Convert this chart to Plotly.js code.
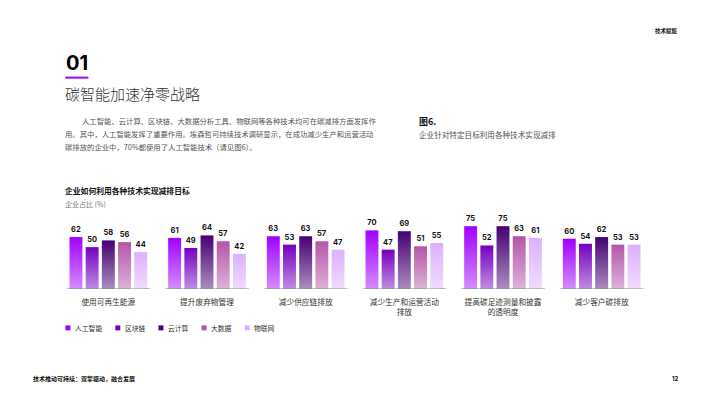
<!DOCTYPE html>
<html><head><meta charset="utf-8">
<script src="https://cdn.plot.ly/plotly-3.0.1.min.js"></script>
<style>html,body{margin:0;padding:0;background:#fff}#chart{width:710px;height:399px}</style>
</head><body><div id="chart"></div>
<script>
const categories = ['使用可再生能源','提升废弃物管理','减少供应链排放','减少生产和运营活动<br>排放','提高碳足迹测量和披露<br>的透明度','减少客户碳排放'];
const seriesNames = ['人工智能','区块链','云计算','大数据','物联网'];
const aiValues = [62, 61, 63, 70, 75, 60];
const blockchainValues = [50, 49, 53, 47, 52, 54];
const cloudValues = [58, 64, 63, 69, 75, 62];
const bigDataValues = [56, 57, 57, 51, 63, 53];
const iotValues = [44, 42, 47, 55, 61, 53];
const seriesValues = [aiValues, blockchainValues, cloudValues, bigDataValues, iotValues];
const seriesColors = ['#a100ff','#7500c0','#460073','#b455aa','#dcb0ff'];

const W = 710, H = 399;
const M = {l: 58.6, r: 58.6, t: 221.8, b: 110};
const PW = W - M.l - M.r, PH = H - M.t - M.b;
const X = px => (px - M.l) / PW;
const Y = py => (H - M.b - py) / PH;
const CJK = 'Noto Sans CJK SC';

const traces = seriesNames.map((name, i) => ({
  type: 'bar', name: name, x: categories, y: seriesValues[i],
  marker: {color: seriesColors[i], line: {width: 0}},
  text: seriesValues[i].map(String), textposition: 'outside',
  textfont: {family: 'Inter, ' + CJK, size: 7.5, color: '#111', weight: 700},
  constraintext: 'none', cliponaxis: false, hoverinfo: 'none', showlegend: false
}));

const ann = [];
const txt = (x, y, text, size, color, weight, anchor, family) => ann.push({
  xref: 'paper', yref: 'paper', x: X(x), y: Y(y), text: text, showarrow: false,
  xanchor: anchor || 'left', yanchor: 'middle',
  font: {family: family || CJK, size: size, color: color, weight: weight || 400}
});
txt(680, 30, '技术赋能', 5.5, '#111', 700, 'right');
txt(64, 62, '01', 20, '#000', 700, 'left', 'Inter, ' + CJK);
txt(63, 93, '碳智能加速净零战略', 15, '#333', 300);
txt(80, 120, '人工智能、云计算、区块链、大数据分析工具、物联网等各种技术均可在碳减排方面发挥作', 7.35, '#555', 400);
txt(63, 133, '用。其中，人工智能发挥了重要作用。埃森哲可持续技术调研显示，在成功减少生产和运营活动', 7.35, '#555', 400);
txt(63, 146, '碳排放的企业中，70%都使用了人工智能技术（请见图6）。', 7.35, '#555', 400);
txt(417, 121, '图6.', 9, '#111', 700);
txt(417, 134, '企业针对特定目标利用各种技术实现减排', 7.6, '#555', 400);
txt(63, 190, '企业如何利用各种技术实现减排目标', 7.8, '#111', 700);
txt(63, 203.5, '企业占比 (%)', 7, '#777', 400);
txt(31, 379, '技术推动可持续：双擎驱动，融合发展', 6, '#111', 700);
txt(681, 379, '12', 6, '#111', 700, 'right', 'Inter, ' + CJK);

const shapes = [];
shapes.push({type: 'rect', xref: 'paper', yref: 'paper', x0: X(65), x1: X(88), y0: Y(78), y1: Y(76), fillcolor: '#a100ff', line: {width: 0}});
categories.forEach((c, i) => shapes.push({
  type: 'line', xref: 'x', yref: 'y', x0: i - 0.425, x1: i + 0.425, y0: 0, y1: 0,
  line: {color: '#8a8a8a', width: 1}, layer: 'above'
}));
// manual legend built from series arrays
let lx = 65;
seriesNames.forEach((name, i) => {
  shapes.push({type: 'rect', xref: 'paper', yref: 'paper', x0: X(lx), x1: X(lx + 5), y0: Y(330.5), y1: Y(325.5), fillcolor: seriesColors[i], line: {width: 0}});
  txt(lx + 7.5, 328, name, 6.8, '#333', 400);
  lx += 8.3 + name.length * 6.8 + 14.5;
});

const layout = {
  width: W, height: H, margin: M, paper_bgcolor: '#fff', plot_bgcolor: '#fff',
  barmode: 'group', bargap: 0.18, bargroupgap: 0.2, showlegend: false,
  font: {family: CJK, color: '#333'},
  xaxis: {type: 'category', showgrid: false, zeroline: false, showline: false, ticks: '',
    tickfont: {family: CJK, size: 7.7, color: '#333'}, ticklabelstandoff: 7, fixedrange: true},
  yaxis: {range: [0, 80], visible: false, showgrid: false, zeroline: false, fixedrange: true},
  annotations: ann, shapes: shapes
};

const gd = document.getElementById('chart');
Plotly.newPlot(gd, traces, layout, {displayModeBar: false, staticPlot: true}).then(() => {
  const svg = gd.querySelector('svg.main-svg');
  let defs = svg.querySelector('defs');
  if (!defs) { defs = document.createElementNS('http://www.w3.org/2000/svg', 'defs'); svg.insertBefore(defs, svg.firstChild); }
  seriesColors.forEach((col, i) => {
    const g = document.createElementNS('http://www.w3.org/2000/svg', 'linearGradient');
    g.setAttribute('id', 'bargrad' + i);
    g.setAttribute('x1', '0'); g.setAttribute('y1', '0'); g.setAttribute('x2', '0'); g.setAttribute('y2', '1');
    [[0, 1], [1, 0.45]].forEach(([off, op]) => {
      const s = document.createElementNS('http://www.w3.org/2000/svg', 'stop');
      s.setAttribute('offset', String(off)); s.setAttribute('stop-color', col); s.setAttribute('stop-opacity', String(op));
      g.appendChild(s);
    });
    defs.appendChild(g);
  });
  gd.querySelectorAll('.barlayer .trace').forEach((tr, i) => {
    tr.querySelectorAll('.point path').forEach(p => { p.style.fill = 'url(#bargrad' + i + ')'; p.style.fillOpacity = 1; });
  });
});
</script></body></html>
